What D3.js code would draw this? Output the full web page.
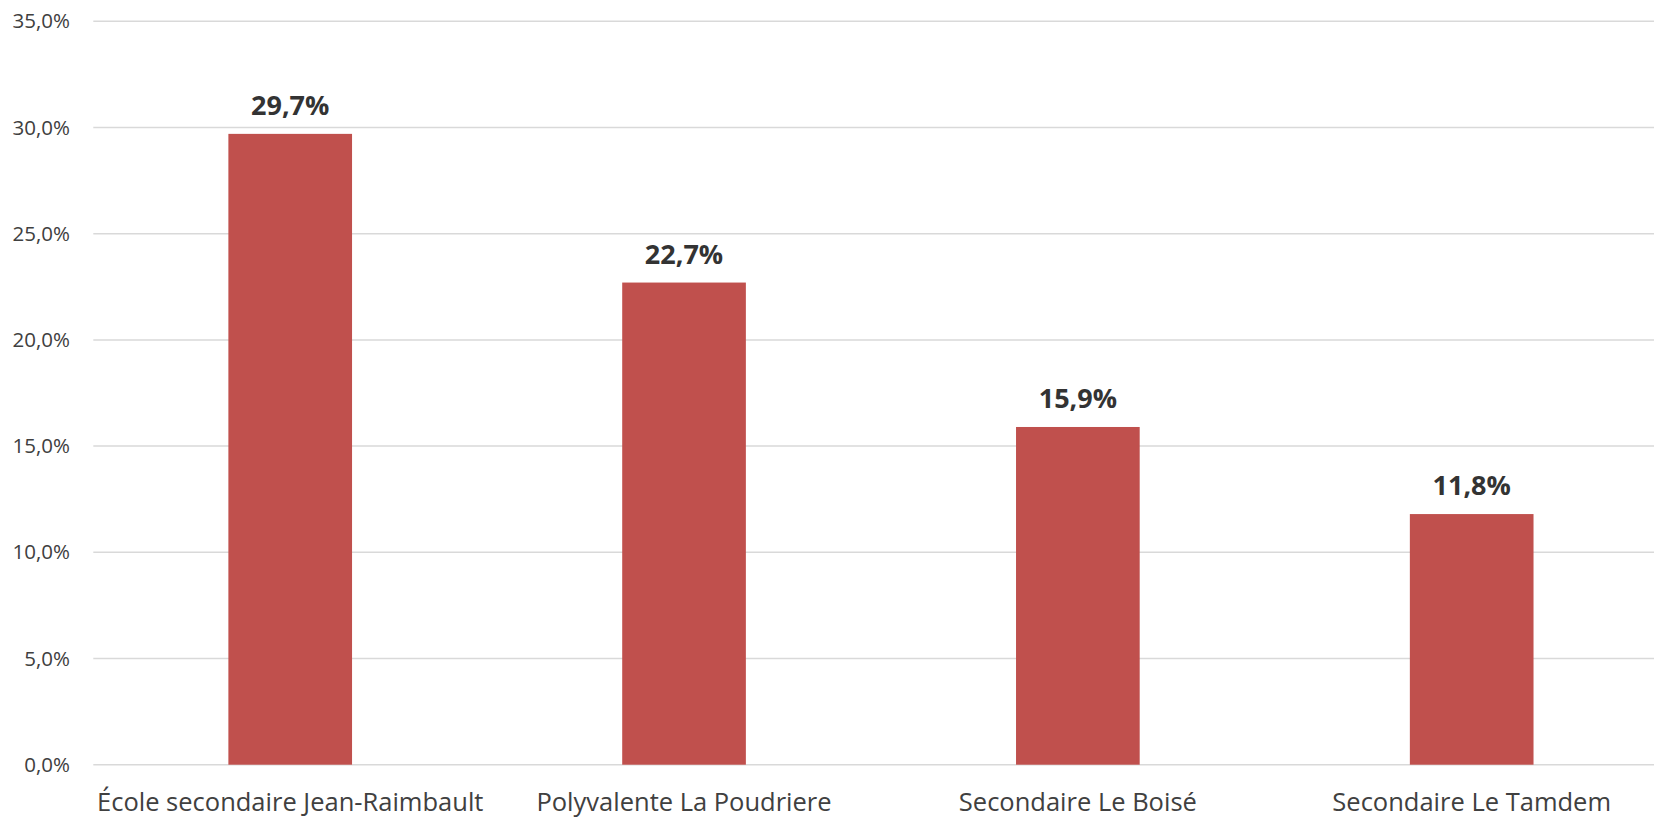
<!DOCTYPE html>
<html><head><meta charset="utf-8">
<script src="https://cdn.jsdelivr.net/npm/d3@7"></script>
<style>html,body{margin:0;padding:0;background:#fff;overflow:hidden}</style>
</head><body>
<svg id="c" width="1654" height="817"></svg>
<script>
const categories = ["École secondaire Jean-Raimbault","Polyvalente La Poudriere","Secondaire Le Boisé","Secondaire Le Tamdem"];
const values = [29.7, 22.7, 15.9, 11.8];
const yTicks = [0,5,10,15,20,25,30,35];
const fmt = v => v.toFixed(1).replace(".", ",") + "%";

(function(){
const W = 1654, H = 817;
const mLeft = 93.3, mRight = 1668.6, mTop = 21.3, mBottom = 764.7;
const svg = d3.select("#c");
const x = d3.scaleBand().domain(categories).range([mLeft, mRight]).paddingInner(0.686).paddingOuter(0.343);
const y = d3.scaleLinear().domain([0,35]).range([mBottom, mTop]);

const font = "'Open Sans', sans-serif";

svg.append("g").selectAll("line").data(yTicks).join("line")
  .attr("x1", mLeft).attr("x2", W)
  .attr("y1", d => y(d)).attr("y2", d => y(d))
  .attr("stroke", "#d9d9d9").attr("stroke-width", 1.5);

svg.append("g").selectAll("text").data(yTicks).join("text")
  .attr("x", 70).attr("y", d => y(d) + 7)
  .attr("text-anchor", "end")
  .attr("font-family", font).attr("font-size", 20.5).attr("fill", "#404040")
  .text(d => fmt(d));

svg.append("g").selectAll("rect").data(values).join("rect")
  .attr("x", (d,i) => x(categories[i]))
  .attr("width", x.bandwidth())
  .attr("y", d => y(d))
  .attr("height", d => y(0) - y(d))
  .attr("fill", "#c0504d");

svg.append("g").selectAll("text").data(values).join("text")
  .attr("x", (d,i) => x(categories[i]) + x.bandwidth()/2)
  .attr("y", d => y(d) - 19)
  .attr("text-anchor", "middle")
  .attr("font-family", font).attr("font-weight", "bold").attr("font-size", 27).attr("fill", "#333333")
  .text(d => fmt(d));

svg.append("g").selectAll("text").data(categories).join("text")
  .attr("x", d => x(d) + x.bandwidth()/2)
  .attr("y", 811)
  .attr("text-anchor", "middle")
  .attr("font-family", font).attr("font-size", 25.5).attr("fill", "#404040")
  .text(d => d);
})();
</script>
</body></html>
